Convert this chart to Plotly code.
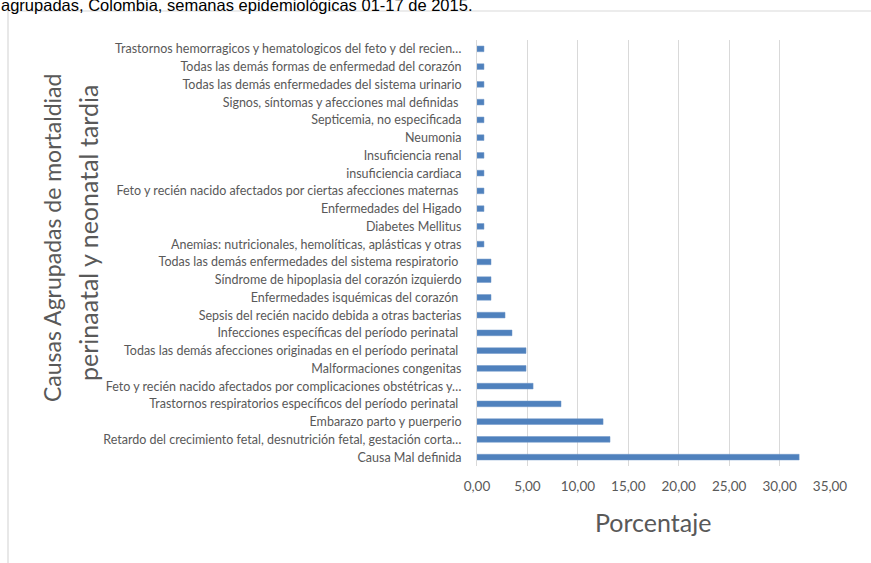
import plotly.graph_objects as go

# causas (de abajo hacia arriba, como en el grafico)
causas = [
    "Causa Mal definida",
    "Retardo del crecimiento fetal, desnutrición fetal, gestación corta…",
    "Embarazo parto y puerperio",
    "Trastornos respiratorios específicos del período perinatal ",
    "Feto y recién nacido afectados por complicaciones obstétricas y…",
    "Malformaciones congenitas",
    "Todas las demás afecciones originadas en el período perinatal ",
    "Infecciones específicas del período perinatal ",
    "Sepsis del recién nacido debida a otras bacterias",
    "Enfermedades isquémicas del corazón ",
    "Síndrome de hipoplasia del corazón izquierdo",
    "Todas las demás enfermedades del sistema respiratorio ",
    "Anemias: nutricionales, hemolíticas, aplásticas y otras",
    "Diabetes Mellitus",
    "Enfermedades del Higado",
    "Feto y recién nacido afectados por ciertas afecciones maternas ",
    "insuficiencia cardiaca",
    "Insuficiencia renal",
    "Neumonia",
    "Septicemia, no especificada",
    "Signos, síntomas y afecciones mal definidas ",
    "Todas las demás enfermedades del sistema urinario",
    "Todas las demás formas de enfermedad del corazón",
    "Trastornos hemorragicos y hematologicos del feto y del recien…",
]
porcentaje = [
    31.94, 13.19, 12.50, 8.33, 5.56, 4.86, 4.86, 3.47, 2.78, 1.39, 1.39, 1.39,
    0.69, 0.69, 0.69, 0.69, 0.69, 0.69, 0.69, 0.69, 0.69, 0.69, 0.69, 0.69,
]
x_ticks = [0, 5, 10, 15, 20, 25, 30, 35]
x_ticktext = ["0,00", "5,00", "10,00", "15,00", "20,00", "25,00", "30,00", "35,00"]

W, H = 871, 563
L, R, T, B = 477, 41, 40, 97
PW, PH = W - L - R, H - T - B


def px(x):
    return (x - L) / PW


def py(y):
    return 1 - (y - T) / PH


GRIS = "#595959"
LINEA = "#d9d9d9"
FONT = "Lato"

fig = go.Figure()
fig.add_trace(
    go.Bar(
        x=porcentaje,
        y=causas,
        orientation="h",
        marker=dict(color="#4f81bd", line=dict(color="#6f96c8", width=0.5)),
    )
)

fig.update_layout(
    width=W,
    height=H,
    margin=dict(l=L, r=R, t=T, b=B, autoexpand=False),
    plot_bgcolor="white",
    paper_bgcolor="white",
    bargap=0.68,
    showlegend=False,
    font=dict(family=FONT, color=GRIS),
    xaxis=dict(
        range=[0, 35],
        tickvals=x_ticks,
        ticktext=x_ticktext,
        showgrid=True,
        gridcolor=LINEA,
        gridwidth=1,
        zeroline=False,
        showline=False,
        tickfont=dict(size=13.5, color=GRIS),
        ticks="outside",
        ticklen=8,
        tickcolor="rgba(0,0,0,0)",
        automargin=False,
        fixedrange=True,
    ),
    yaxis=dict(
        categoryorder="array",
        categoryarray=causas,
        showline=True,
        linecolor=LINEA,
        linewidth=1,
        showgrid=False,
        tickfont=dict(size=12.5, color=GRIS),
        ticks="outside",
        ticklen=12,
        tickcolor="rgba(0,0,0,0)",
        automargin=False,
        fixedrange=True,
    ),
    annotations=[
        dict(
            text="Porcentaje",
            xref="paper", yref="paper",
            x=px(653), y=py(522),
            xanchor="center", yanchor="middle",
            showarrow=False,
            font=dict(size=25, color=GRIS, family=FONT),
        ),
        dict(
            text="Causas Agrupadas de mortaldiad",
            xref="paper", yref="paper",
            x=px(52), y=py(238),
            xanchor="center", yanchor="middle",
            textangle=-90,
            showarrow=False,
            font=dict(size=23, color=GRIS, family=FONT),
        ),
        dict(
            text="perinaatal y neonatal tardia",
            xref="paper", yref="paper",
            x=px(88), y=py(233),
            xanchor="center", yanchor="middle",
            textangle=-90,
            showarrow=False,
            font=dict(size=25, color=GRIS, family=FONT),
        ),
        dict(
            text="agrupadas, Colombia, semanas epidemiológicas 01-17 de 2015.",
            xref="paper", yref="paper",
            x=px(-1), y=py(16),
            xanchor="left", yanchor="bottom",
            showarrow=False,
            font=dict(size=16.5, color="black", family="Liberation Sans"),
        ),
    ],
    shapes=[
        dict(type="line", xref="paper", yref="paper",
             x0=px(8), x1=px(880), y0=py(11), y1=py(11),
             line=dict(color=LINEA, width=1.2)),
        dict(type="line", xref="paper", yref="paper",
             x0=px(8), x1=px(8), y0=py(11), y1=py(580),
             line=dict(color=LINEA, width=1.2)),
    ],
)

fig.write_html(
    "out.html",
    config={"displayModeBar": False},
    post_script="document.body.style.margin='0px';",
)
